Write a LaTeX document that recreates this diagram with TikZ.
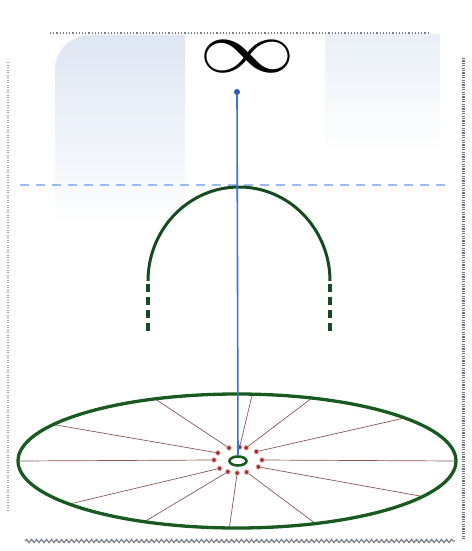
\documentclass[tikz,border=0pt]{standalone}
\usepackage{graphicx}
\usepackage{xcolor}
\usepackage{tikz}
\usetikzlibrary{shapes.geometric, decorations.pathmorphing}

\definecolor{archgreen}{RGB}{22,75,32}
\definecolor{rimgreen}{RGB}{25,90,32}
\definecolor{axisblue}{RGB}{55,115,225}
\definecolor{haze}{RGB}{214,224,240}
\definecolor{spokered}{RGB}{140,85,85}
\definecolor{dotred}{RGB}{165,40,40}
\definecolor{framegray}{RGB}{120,125,140}

\begin{document}
\begin{tikzpicture}[x=1pt, y=-1pt,
    rim/.style={draw=rimgreen, line width=3.3pt},
    arch/.style={draw=archgreen, line width=3pt},
    archdash/.style={draw=archgreen, line width=3.6pt, dash pattern=on 8pt off 5pt},
    spoke/.style={draw=spokered, line width=0.7pt},
    hubdot/.style={circle, fill=dotred, draw=dotred!40, line width=0.8pt,
                   inner sep=0pt, minimum size=4.6pt},
    axis/.style={draw=axisblue, line width=1.6pt}
  ]
    \useasboundingbox (0,0) rectangle (471,551);
    % faint background
    \shade[top color=haze, bottom color=white, opacity=0.8]
      (55,230) -- (55,70) arc[start angle=180, end angle=270, radius=35] -- (185,35) -- (185,230) -- cycle;
    \shade[top color=haze, bottom color=white, opacity=0.5]
      (325,150) -- (325,35) -- (440,35) -- (440,150) -- cycle;
    \draw[axisblue!50, line width=1.1pt, dash pattern=on 9pt off 7pt] (20,185) -- (448,185);
    % frame
    \draw[framegray, line width=1.2pt, dotted] (50,33) -- (430,33);
    \draw[framegray!70, line width=2.5pt, dash pattern=on 1pt off 1.5pt] (8,62) -- (8,512);
    \draw[framegray!90!black, line width=3pt, dash pattern=on 1.2pt off 1.2pt] (463,58) -- (463,540);
    \draw[framegray, line width=1.2pt, decorate,
          decoration={snake, segment length=5pt, amplitude=1.6pt}] (25,541) -- (455,541);
    % infinity and axis
    \node[inner sep=0pt] (inf) at (247,57) {\scalebox{9.6}[7.4]{$\infty$}};
    \node[circle, fill=axisblue!80!black, inner sep=0pt, minimum size=6pt] (top) at (237,92) {};
    % arch
    \draw[arch] (148,281) arc[start angle=180, end angle=360, x radius=91, y radius=94];
    \draw[archdash] (148,284) -- (148,334);
    \draw[archdash] (330,284) -- (330,334);
    % wheel
    \node[draw=rimgreen, line width=2.6pt, ellipse, inner sep=0pt,
          minimum width=17pt, minimum height=9pt] (hub) at (238,461) {};
    \foreach \a [count=\i] in {0,40,70,86,112,147,180,220,245,268,291,328} {
      \coordinate (r\i) at ({237+219*cos(\a)},{461-67*sin(\a)});
      \node[hubdot] (d\i) at ({238+24*cos(\a)},{460-13*sin(\a)}) {};
      \draw[spoke] (d\i) -- (r\i);
    }
    \draw[rim] (237,461) ellipse[x radius=219, y radius=67];
    \draw[axis] (top) -- (hub);
  \end{tikzpicture}
\end{document}
